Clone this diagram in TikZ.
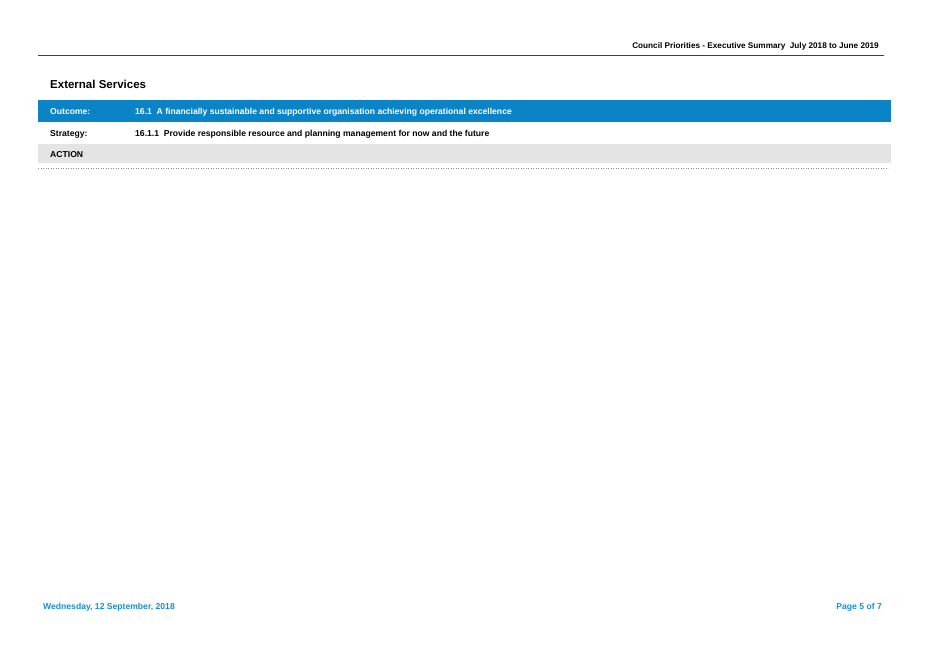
\documentclass[tikz,border=0pt]{standalone}
\usepackage{fontspec}
\setmainfont{Liberation Sans}
\definecolor{bluebar}{HTML}{0A84C6}
\definecolor{graybar}{HTML}{E4E4E4}
\definecolor{footblue}{HTML}{1A8FD0}
\begin{document}
\begin{tikzpicture}[x=1pt,y=-1pt,
  txt/.style={inner sep=0pt,anchor=base west,font=\bfseries\fontsize{8.6}{10}\selectfont}]
\useasboundingbox[fill=white] (0,0) rectangle (928,657);
\node[txt,anchor=base east,font=\bfseries\fontsize{8.2}{10}\selectfont] (hdr) at (879,48) {Council Priorities - Executive Summary\ \ July 2018 to June 2019};
\draw[line width=1.4pt,black!75] (38,55.5) -- (884,55.5);
\node[txt,font=\bfseries\fontsize{11.5}{13}\selectfont] (title) at (50,88) {External Services};
\fill[bluebar] (38,100) rectangle (891,122);
\node[txt,white] (oc) at (50,114) {Outcome:};
\node[txt,white] (oct) at (135,114) {16.1\ \ A financially sustainable and supportive organisation achieving operational excellence};
\node[txt] (st) at (50,136) {Strategy:};
\node[txt] (stt) at (135,136) {16.1.1\ \ Provide responsible resource and planning management for now and the future};
\fill[graybar] (38,144) rectangle (891,163);
\node[txt] (act) at (50,157.5) {ACTION};
\draw[black!45,line width=0.5pt,dotted] (38,168) -- (888,168);
\node[txt,footblue] (date) at (43,609) {Wednesday, 12 September, 2018};
\node[txt,footblue,anchor=base east] (pg) at (882,609) {Page 5 of 7};
\end{tikzpicture}
\end{document}
